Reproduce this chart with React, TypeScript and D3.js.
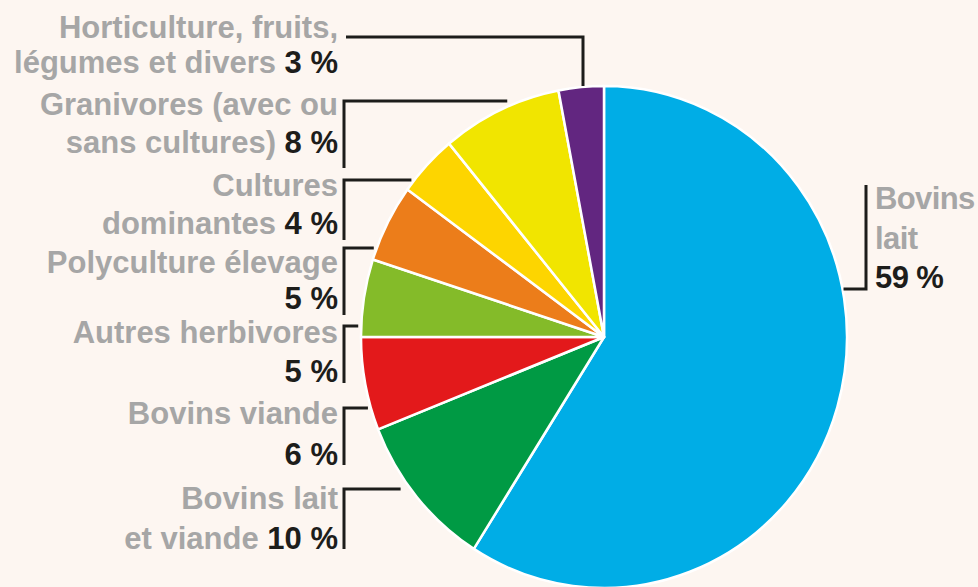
import React from "react";
import * as d3 from "d3";

const categories = [
  "Bovins lait",
  "Bovins lait et viande",
  "Bovins viande",
  "Autres herbivores",
  "Polyculture élevage",
  "Cultures dominantes",
  "Granivores (avec ou sans cultures)",
  "Horticulture, fruits, légumes et divers",
];
const values = [59, 10, 6, 5, 5, 4, 8, 3];
const colors = ["#00ADE6", "#009A44", "#E3191B", "#84BB29", "#EC7D1A", "#FDD500", "#F1E500", "#622680"];
// label text lines (the percentage is appended to the last line)
const labelLines = [
  ["Bovins", "lait", ""],
  ["Bovins lait", "et viande "],
  ["Bovins viande", ""],
  ["Autres herbivores", ""],
  ["Polyculture élevage", ""],
  ["Cultures", "dominantes "],
  ["Granivores (avec ou", "sans cultures) "],
  ["Horticulture, fruits,", "légumes et divers "],
];

const W = 978;
const H = 587;
const CX = 604;
const CY = 337;
const RX = 243;
const RY = 251;
const GRAY = "#A6A6A6";
const DARK = "#1D1D1B";
const FONT = "'Liberation Sans', Arial, sans-serif";
const FS = 31;

// layout: first baseline, line gap, bracket top / bottom
const layout = [
  { side: "right", b1: 209, gap: 39.5, top: 185, bottom: 289 },
  { side: "left", b1: 509, gap: 40, top: 489, bottom: 549 },
  { side: "left", b1: 424, gap: 41, top: 408, bottom: 465 },
  { side: "left", b1: 343, gap: 39, top: 326, bottom: 383 },
  { side: "left", b1: 273, gap: 36, top: 248, bottom: 315 },
  { side: "left", b1: 196, gap: 38, top: 180, bottom: 240 },
  { side: "left", b1: 115, gap: 38, top: 101, bottom: 168 },
  { side: "top", b1: 38, gap: 35, top: 37, bottom: 86 },
];

function edgeXLeft(y: number) {
  const t = (y - CY) / RY;
  return CX - RX * Math.sqrt(Math.max(0, 1 - t * t));
}
function edgeXRight(y: number) {
  const t = (y - CY) / RY;
  return CX + RX * Math.sqrt(Math.max(0, 1 - t * t));
}

export default function App() {
  const pie = d3.pie<number>().sort(null).value((d) => d);
  const arcs = pie(values);
  const arc = d3.arc<d3.PieArcDatum<number>>().innerRadius(0).outerRadius(RX);

  const textX = 338;
  const bx = 344;

  return (
    <div style={{ position: "absolute", left: 0, top: 0, width: W, height: H }}>
      <svg width={W} height={H} style={{ display: "block" }}>
        <rect width={W} height={H} fill="#FDF6F1" />
        <g transform={`translate(${CX},${CY}) scale(1,${RY / RX})`}>
          {arcs.map((a, i) => (
            <path key={i} d={arc(a) || ""} fill={colors[i]} stroke="#FFFFFF" strokeWidth={2.5} strokeLinejoin="round" />
          ))}
        </g>
        {categories.map((c, i) => {
          const L = layout[i];
          const lines = labelLines[i];
          const pct = `${values[i]} %`;
          const isRight = L.side === "right";
          const x = isRight ? 875 : textX;
          let bracket = "";
          if (L.side === "right") {
            bracket = `M866,${L.top} V${L.bottom} H${edgeXRight(L.bottom) + 1}`;
          } else if (L.side === "top") {
            const vx = 583;
            const t = (vx - CX) / RX;
            const ey = CY - RY * Math.sqrt(1 - t * t);
            bracket = `M${bx + 2},${L.top} H${vx} V${ey - 1}`;
          } else {
            const ex = edgeXLeft(L.top) - (i === 6 ? 14 : i === 1 ? 10 : 3);
            bracket = `M${ex},${L.top} H${bx} V${L.bottom}`;
          }
          return (
            <g key={c}>
              <path d={bracket} fill="none" stroke={DARK} strokeWidth={3} />
              <text
                x={x}
                textAnchor={isRight ? "start" : "end"}
                fontFamily={FONT}
                fontWeight="bold"
                fontSize={FS}
                letterSpacing={isRight ? -0.6 : 0}
              >
                {lines.map((ln, j) => {
                  const last = j === lines.length - 1;
                  return (
                    <tspan key={j} x={x} y={L.b1 + j * L.gap}>
                      {ln ? <tspan fill={GRAY}>{ln}</tspan> : null}
                      {last ? <tspan fill={DARK}>{pct}</tspan> : null}
                    </tspan>
                  );
                })}
              </text>
            </g>
          );
        })}
      </svg>
    </div>
  );
}
